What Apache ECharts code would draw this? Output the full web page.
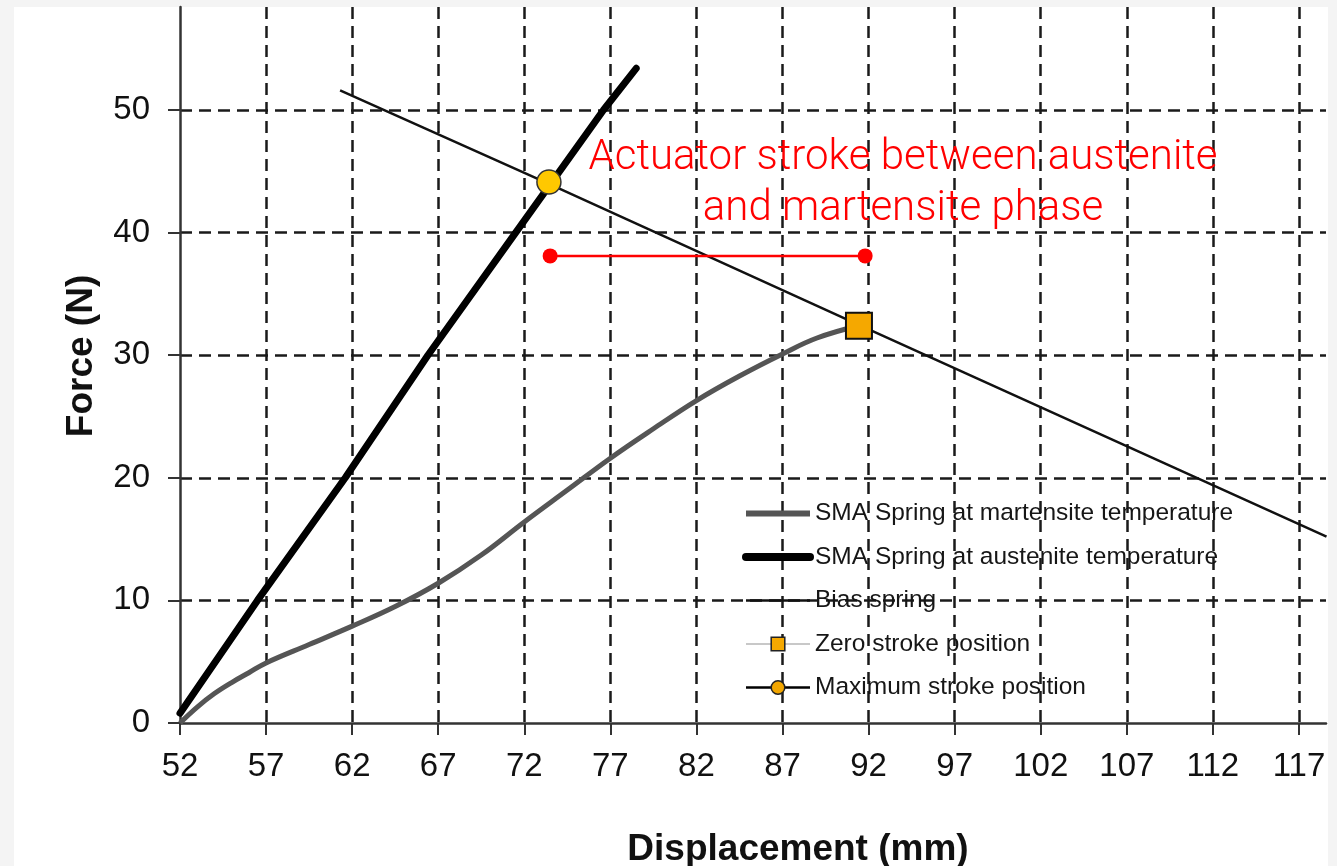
<!DOCTYPE html>
<html>
<head>
<meta charset="utf-8">
<title>SMA actuator force–displacement</title>
<script src="https://cdn.jsdelivr.net/npm/echarts@6/dist/echarts.min.js"></script>
<style>
  html, body { margin: 0; padding: 0; background: #f4f4f4; }
  #chart { width: 1337px; height: 866px; }
</style>
</head>
<body>
<div id="chart"></div>
<script>
// Force (N) versus displacement (mm) curves for an SMA spring actuator
const martensiteCurve = [
  [52, 0], [53, 1.3], [54, 2.4], [55, 3.3], [56, 4.1], [57, 4.9], [59.5, 6.4],
  [62, 7.9], [64.5, 9.5], [67, 11.4], [69.5, 13.7], [72, 16.4], [74.5, 19.0],
  [77, 21.6], [79.5, 24.0], [82, 26.3], [84.5, 28.3], [87, 30.1], [89, 31.4], [91.4, 32.4]
];
const austeniteCurve = [
  [52, 0.8], [56.5, 10], [61.6, 20], [66.4, 30], [71.5, 40], [76.6, 50], [78.5, 53.4]
];
const biasSpring = [
  [61.3, 51.6], [73.4, 44.0], [91.4, 32.5], [118.6, 15.2]
];
const zeroStroke = [[91.44, 32.4]];
const maxStroke = [[73.43, 44.13]];
const strokeSpan = [[73.5, 38.1], [91.8, 38.1]];

const xTicks = [52, 57, 62, 67, 72, 77, 82, 87, 92, 97, 102, 107, 112, 117];
const yTicks = [0, 10, 20, 30, 40, 50];

const seriesNames = [
  'SMA Spring at martensite temperature',
  'SMA Spring at austenite temperature',
  'Bias spring',
  'Zero stroke position',
  'Maximum stroke position'
];
const strokeNote = 'Actuator stroke between austenite\nand martensite phase';

const chart = echarts.init(document.getElementById('chart'), null, { renderer: 'canvas' });

const gridLine = { show: true, showMinLine: false, showMaxLine: true,
  lineStyle: { color: '#1a1a1a', width: 2.5, type: [12, 7] } };
const axisFont = { fontFamily: 'Liberation Sans', fontSize: 33, color: '#111' };
const hiddenMark = { color: 'rgba(0,0,0,0)', borderWidth: 0 };

chart.setOption({
  backgroundColor: '#f4f4f4',
  animation: false,
  graphic: [{
    type: 'rect', z: -10, silent: true,
    shape: { x: 14, y: 7, width: 1314, height: 859 },
    style: { fill: '#ffffff' }
  }],
  grid: { left: 180, right: 11, top: 7, bottom: 143, containLabel: false, outerBoundsMode: 'none' },
  xAxis: {
    type: 'value', min: 52, max: 118.57, interval: 5,
    name: 'Displacement (mm)', nameLocation: 'middle', nameGap: 108,
    nameTextStyle: { fontFamily: 'Liberation Sans', fontSize: 37, fontWeight: 'bold', color: '#111',
      padding: [0, 0, 0, 90] },
    axisLine: { show: true, lineStyle: { color: '#333', width: 2.5 } },
    axisTick: { show: true, customValues: xTicks, length: 12, lineStyle: { color: '#333', width: 2 } },
    axisLabel: { customValues: xTicks, margin: 27, ...axisFont },
    splitLine: gridLine
  },
  yAxis: {
    type: 'value', min: 0, max: 58.4, interval: 10,
    name: 'Force (N)', nameLocation: 'middle', nameGap: 80, nameRotate: 90,
    nameTextStyle: { fontFamily: 'Liberation Sans', fontSize: 37, fontWeight: 'bold', color: '#111',
      padding: [0, 0, 0, 18] },
    axisLine: { show: true, lineStyle: { color: '#333', width: 2.5 } },
    axisTick: { show: true, customValues: yTicks, length: 12, lineStyle: { color: '#333', width: 2 } },
    axisLabel: { customValues: yTicks, margin: 30, ...axisFont },
    splitLine: gridLine
  },
  legend: {
    orient: 'vertical', left: 742, top: 501, padding: 0,
    itemWidth: 64, itemHeight: 17, itemGap: 18.5,
    textStyle: { fontFamily: 'Liberation Sans', fontSize: 24.5, lineHeight: 24, color: '#161616' },
    data: [
      { name: seriesNames[0], itemStyle: hiddenMark, lineStyle: { color: '#555', width: 6 } },
      { name: seriesNames[1], itemStyle: hiddenMark, lineStyle: { color: '#000', width: 8 } },
      { name: seriesNames[2], itemStyle: hiddenMark, lineStyle: { color: '#111', width: 2.5 } },
      { name: seriesNames[3], itemStyle: { color: '#f5a800', borderColor: '#222', borderWidth: 1.5 },
        lineStyle: { color: '#c8c8c8', width: 2 } },
      { name: seriesNames[4], itemStyle: { color: '#f2a600', borderColor: '#222', borderWidth: 1.5 },
        lineStyle: { color: '#000', width: 2.5 } }
    ]
  },
  series: [
    {
      name: seriesNames[0], type: 'line', data: martensiteCurve, smooth: 0.4,
      symbol: 'none', color: '#555',
      lineStyle: { color: '#555', width: 5 }, z: 3
    },
    {
      name: seriesNames[1], type: 'line', data: austeniteCurve,
      symbol: 'none', color: '#000',
      lineStyle: { color: '#000', width: 7, cap: 'round' }, z: 3
    },
    {
      name: seriesNames[2], type: 'line', data: biasSpring,
      symbol: 'none', color: '#111',
      lineStyle: { color: '#111', width: 2.5 }, z: 4
    },
    {
      name: seriesNames[3], type: 'line', data: zeroStroke,
      symbol: 'rect', symbolSize: 26, color: '#f5a800',
      itemStyle: { color: '#f5a800', borderColor: '#111', borderWidth: 2 },
      lineStyle: { color: '#c8c8c8', width: 2 }, z: 6
    },
    {
      name: seriesNames[4], type: 'line', data: maxStroke,
      symbol: 'circle', symbolSize: 24, color: '#ffc800',
      itemStyle: { color: '#ffc800', borderColor: '#333', borderWidth: 1.5 },
      lineStyle: { color: '#000', width: 2.5 }, z: 6
    },
    {
      name: 'stroke', type: 'line', data: strokeSpan,
      symbol: 'circle', symbolSize: 15, color: '#ff0000',
      itemStyle: { color: '#ff0000' },
      lineStyle: { color: '#ff0000', width: 2.5 }, z: 7,
      markPoint: {
        symbol: 'circle', symbolSize: 0, silent: true,
        data: [{ coord: [94.0, 44.0] }],
        label: {
          show: true, position: 'inside', formatter: strokeNote,
          fontFamily: 'Roboto', fontWeight: 300, fontSize: 42, lineHeight: 51,
          color: '#ff0000', align: 'center'
        }
      }
    }
  ]
});
</script>
</body>
</html>
